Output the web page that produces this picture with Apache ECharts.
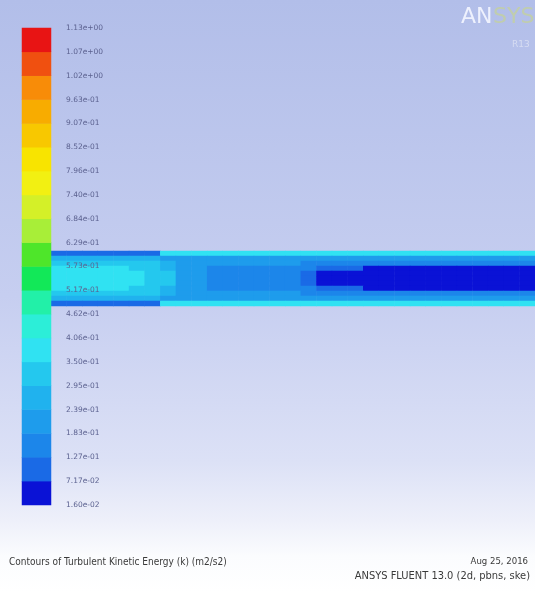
<!DOCTYPE html>
<html><head><meta charset="utf-8">
<script src="https://cdn.jsdelivr.net/npm/echarts@6/dist/echarts.min.js"></script>
<style>html,body{margin:0;padding:0;background:#fff}#c{width:535px;height:592px}</style>
</head><body><div id="c"></div>
<script>
// Contour levels of the colour bar (bottom to top), m2/s2
const levelValues = [0.0160,0.0717,0.1274,0.1831,0.2388,0.2945,0.3502,0.4059,0.4616,0.5173,0.5730,0.6287,0.6844,0.7401,0.7958,0.8515,0.9072,0.9629,1.0186,1.0743,1.1300];
const levelLabels = ['1.60e-02','7.17e-02','1.27e-01','1.83e-01','2.39e-01','2.95e-01','3.50e-01','4.06e-01','4.62e-01','5.17e-01','5.73e-01','6.29e-01','6.84e-01','7.40e-01','7.96e-01','8.52e-01','9.07e-01','9.63e-01','1.02e+00','1.07e+00','1.13e+00'];
const bandColors = ['#0a12d6','#1a6ae6','#1c86ea','#1e9cec','#20b2ee','#24c8ee','#30e2f2','#2ceed8','#22f0a8','#12e858','#4ee62a','#a8ee38','#d4f028','#f2f012','#f8e400','#f8c800','#f8ac00','#f88c08','#f05010','#e81414'];

// Turbulent kinetic energy in the pipe, rows top wall -> bottom wall, 31 stations along x
const pipeRow0 = [0.10,0.10,0.10,0.10,0.10,0.10,0.10,0.38,0.38,0.38,0.38,0.38,0.38,0.38,0.38,0.38,0.38,0.38,0.38,0.38,0.38,0.38,0.38,0.38,0.38,0.38,0.38,0.38,0.38,0.38,0.38];
const pipeRow1 = [0.27,0.27,0.27,0.27,0.27,0.27,0.27,0.21,0.21,0.21,0.21,0.21,0.21,0.21,0.21,0.21,0.21,0.21,0.21,0.21,0.21,0.21,0.21,0.21,0.21,0.21,0.21,0.21,0.21,0.21,0.21];
const pipeRow2 = [0.32,0.32,0.32,0.32,0.32,0.32,0.32,0.27,0.21,0.21,0.21,0.21,0.21,0.21,0.21,0.21,0.16,0.16,0.16,0.16,0.16,0.16,0.16,0.16,0.16,0.16,0.16,0.16,0.16,0.16,0.16];
const pipeRow3 = [0.38,0.38,0.38,0.38,0.38,0.32,0.32,0.27,0.21,0.21,0.16,0.16,0.16,0.16,0.16,0.16,0.16,0.10,0.10,0.10,0.04,0.04,0.04,0.04,0.04,0.04,0.04,0.04,0.04,0.04,0.04];
const pipeRow4 = [0.38,0.38,0.38,0.38,0.38,0.38,0.32,0.32,0.21,0.21,0.16,0.16,0.16,0.16,0.16,0.16,0.10,0.04,0.04,0.04,0.04,0.04,0.04,0.04,0.04,0.04,0.04,0.04,0.04,0.04,0.04];
const pipeRow5 = [0.38,0.38,0.38,0.38,0.38,0.38,0.32,0.32,0.21,0.21,0.16,0.16,0.16,0.16,0.16,0.16,0.10,0.04,0.04,0.04,0.04,0.04,0.04,0.04,0.04,0.04,0.04,0.04,0.04,0.04,0.04];
const pipeRow6 = [0.38,0.38,0.38,0.38,0.38,0.38,0.32,0.32,0.21,0.21,0.16,0.16,0.16,0.16,0.16,0.16,0.10,0.04,0.04,0.04,0.04,0.04,0.04,0.04,0.04,0.04,0.04,0.04,0.04,0.04,0.04];
const pipeRow7 = [0.38,0.38,0.38,0.38,0.38,0.32,0.32,0.27,0.21,0.21,0.16,0.16,0.16,0.16,0.16,0.16,0.16,0.10,0.10,0.10,0.04,0.04,0.04,0.04,0.04,0.04,0.04,0.04,0.04,0.04,0.04];
const pipeRow8 = [0.32,0.32,0.32,0.32,0.32,0.32,0.32,0.27,0.21,0.21,0.21,0.21,0.21,0.21,0.21,0.21,0.16,0.16,0.16,0.16,0.16,0.16,0.16,0.16,0.16,0.16,0.16,0.16,0.16,0.16,0.16];
const pipeRow9 = [0.27,0.27,0.27,0.27,0.27,0.27,0.27,0.21,0.21,0.21,0.21,0.21,0.21,0.21,0.21,0.21,0.21,0.21,0.21,0.21,0.21,0.21,0.21,0.21,0.21,0.21,0.21,0.21,0.21,0.21,0.21];
const pipeRow10 = [0.10,0.10,0.10,0.10,0.10,0.10,0.10,0.38,0.38,0.38,0.38,0.38,0.38,0.38,0.38,0.38,0.38,0.38,0.38,0.38,0.38,0.38,0.38,0.38,0.38,0.38,0.38,0.38,0.38,0.38,0.38];

const titleText = 'Contours of Turbulent Kinetic Energy (k) (m2/s2)';
const dateText = 'Aug 25, 2016';
const versionText = 'ANSYS FLUENT 13.0 (2d, pbns, ske)';

const pipeRows = [pipeRow0,pipeRow1,pipeRow2,pipeRow3,pipeRow4,pipeRow5,pipeRow6,pipeRow7,pipeRow8,pipeRow9,pipeRow10];
const stations = pipeRow0.map((_, i) => 'x' + i);
const rowNames = pipeRows.map((_, i) => 'r' + i);
const bandNames = bandColors.map((_, i) => 'b' + i);

const pipeData = [];
pipeRows.forEach((row, r) => row.forEach((v, c) => pipeData.push([c, r, v])));
const barData = bandNames.map((_, i) => [0, i, (levelValues[i] + levelValues[i + 1]) / 2]);

const pieces = bandColors.map((col, i) => ({ gte: levelValues[i], lt: levelValues[i + 1], color: col }));
pieces[pieces.length - 1].lte = levelValues[levelValues.length - 1];
delete pieces[pieces.length - 1].lt;

const chart = echarts.init(document.getElementById('c'), null, { renderer: 'canvas' });
chart.setOption({
  animation: false,
  backgroundColor: {
    type: 'linear', x: 0, y: 0, x2: 0, y2: 1,
    colorStops: [
      { offset: 0, color: '#b2bee9' },
      { offset: 0.5, color: '#c6cef0' },
      { offset: 0.78, color: '#dce1f6' },
      { offset: 0.88, color: '#eef0fa' },
      { offset: 0.94, color: '#fbfcfe' },
      { offset: 1, color: '#ffffff' }
    ]
  },
  visualMap: { type: 'piecewise', show: false, dimension: 2, seriesIndex: [0, 1], pieces: pieces },
  grid: [
    { left: 22, top: 28, width: 29, height: 477 },
    { left: 51, top: 251, width: 496, height: 55 }
  ],
  xAxis: [
    { type: 'category', gridIndex: 0, data: ['bar'], show: false },
    { type: 'category', gridIndex: 1, data: stations, show: false }
  ],
  yAxis: [
    { type: 'category', gridIndex: 0, data: bandNames, show: false },
    {
      type: 'value', gridIndex: 0, min: 0, max: 20, interval: 1, position: 'right', z: 10,
      axisLine: { show: false }, axisTick: { show: false }, splitLine: { show: false },
      axisLabel: {
        margin: 15, color: '#5c6290', fontSize: 7.5, fontFamily: 'DejaVu Sans',
        formatter: v => levelLabels[v]
      }
    },
    { type: 'category', gridIndex: 1, data: rowNames, inverse: true, show: false }
  ],
  series: [
    { type: 'heatmap', xAxisIndex: 0, yAxisIndex: 0, data: barData, z: 3 },
    { type: 'heatmap', xAxisIndex: 1, yAxisIndex: 2, data: pipeData, z: 1 }
  ],
  graphic: [
    { type: 'text', left: 461, top: 6, z: 20, style: { text: 'AN', fill: '#f4f6ff', font: '22px "DejaVu Sans"', opacity: 0.9 } },
    { type: 'text', left: 493, top: 6, z: 20, style: { text: 'SYS', fill: '#c4d29a', font: '22px "DejaVu Sans"', opacity: 0.75 } },
    { type: 'text', left: 512, top: 40, z: 20, style: { text: 'R13', fill: '#d6dcf2', font: '9px "DejaVu Sans"' } },
    { type: 'text', left: 9, top: 557, z: 20, style: { text: titleText, fill: '#3a3a3a', font: '10px "DejaVu Sans Condensed", "DejaVu Sans"' } },
    { type: 'text', right: 7, top: 557, z: 20, style: { text: dateText, fill: '#3a3a3a', font: '9.5px "DejaVu Sans Condensed", "DejaVu Sans"' } },
    { type: 'text', right: 5, top: 571, z: 20, style: { text: versionText, fill: '#3a3a3a', font: '11px "DejaVu Sans Condensed", "DejaVu Sans"' } }
  ]
});
</script></body></html>
